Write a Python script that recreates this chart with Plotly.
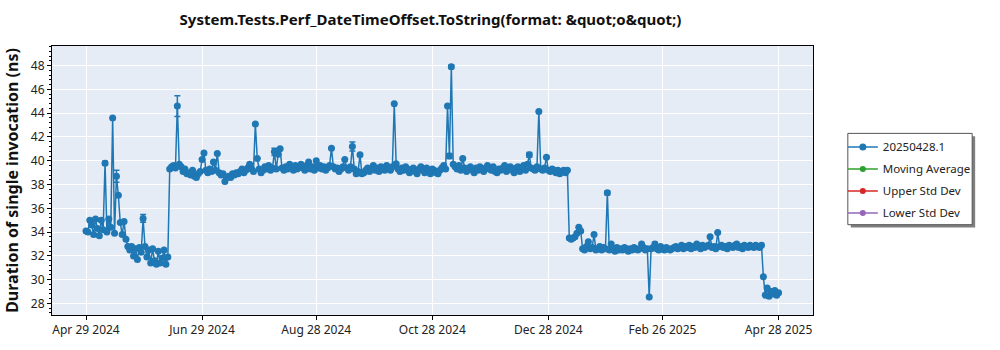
import pandas as pd
import plotly.graph_objects as go

TITLE = "System.Tests.Perf_DateTimeOffset.ToString(format: &amp;quot;o&amp;quot;)"
Y_TITLE = "Duration of single invocation (ns)"
SERIES_NAME = "20250428.1"
EXTRA_SERIES = ["Moving Average", "Upper Std Dev", "Lower Std Dev"]
EXTRA_COLORS = ["#2ca02c", "#d62728", "#9467bd"]

START_DATE = "2024-04-29"

# one measurement per day, in ns
VALUES = [
    # Apr 29 - May 20 2024
    34.1, 34.0, 35.0, 34.6, 33.8, 35.1, 34.3, 33.7, 35.0, 34.2,
    39.8, 34.0, 35.1, 34.4, 43.6, 33.9, 38.7, 37.1, 34.8, 33.8,
    34.9, 33.4,
    # May 21 - Jun 11 2024
    32.8, 32.5, 32.8, 32.0, 32.6, 31.7, 32.7, 32.3, 35.15, 32.8,
    31.9, 32.5, 31.4, 32.6, 31.6, 31.3, 32.4, 31.4, 31.8, 32.5,
    31.3, 31.9,
    # Jun 12 2024 - Jan 7 2025
    39.3, 39.5, 39.6, 39.4, 44.6, 39.7, 39.5, 39.1, 39.3, 38.9,
    39.0, 38.8, 39.2, 38.7, 38.6, 38.9, 39.1, 40.1, 40.65, 39.2,
    39.0, 39.3, 39.1, 39.9, 39.2, 40.6, 39.0, 38.8, 38.9, 38.25,
    38.6, 38.7, 38.6, 38.9, 38.8, 39.0, 38.9, 39.1, 39.3, 39.0,
    39.2, 39.4, 39.7, 39.3, 39.1, 43.1, 40.2, 39.3, 39.0, 39.2,
    39.5, 39.3, 39.6, 39.2, 39.4, 40.75, 39.3, 40.55, 41.0, 39.4,
    39.2, 39.5, 39.3, 39.7, 39.4, 39.2, 39.6, 39.3, 39.5, 39.7,
    39.4, 39.2, 39.6, 39.9, 39.3, 39.5, 39.2, 40.0, 39.4, 39.6,
    39.3, 39.5, 39.2, 39.4, 39.6, 41.05, 39.5, 39.3, 39.4, 39.1,
    39.3, 39.5, 40.1, 39.4, 39.2, 39.5, 41.2, 39.3, 38.9, 39.1,
    40.5, 38.9, 39.0, 39.2, 39.4, 39.1, 39.3, 39.6, 39.2, 39.4,
    39.1, 39.5, 39.3, 39.2, 39.6, 39.4, 39.2, 39.5, 44.8, 39.75,
    39.3, 39.1, 39.4, 39.2, 39.5, 39.3, 39.0, 39.2, 39.4, 39.1,
    38.9, 39.3, 39.5, 39.2, 39.0, 39.4, 39.1, 38.9, 39.3, 39.2,
    39.0, 38.9, 39.2, 39.4, 39.6, 39.3, 44.6, 40.4, 47.9, 39.7,
    39.5, 39.3, 39.6, 39.2, 40.2, 39.4, 39.1, 39.3, 39.5, 39.2,
    39.0, 39.4, 39.2, 39.5, 39.3, 39.1, 39.4, 39.6, 39.3, 39.2,
    39.5, 39.1, 39.0, 39.3, 39.2, 39.4, 39.6, 39.1, 39.3, 39.5,
    39.2, 39.0, 39.4, 39.5, 39.1, 39.3, 39.6, 39.2, 39.7, 40.5,
    39.4, 39.3, 39.2, 39.5, 44.15, 39.3, 39.2, 39.4, 40.3, 39.2,
    39.1, 39.3, 39.2, 39.0, 39.2, 38.9, 39.1, 39.2, 39.0, 39.2,
    # Jan 8 - Jan 14 2025
    33.5, 33.4, 33.5, 33.6, 33.9, 34.4, 34.1,
    # Jan 15 - Apr 19 2025
    32.6, 32.5, 32.8, 33.2, 32.6, 32.7, 33.8, 32.5, 32.6, 32.8,
    32.5, 32.7, 32.6, 37.3, 32.5, 33.0, 32.6, 32.4, 32.7, 32.5,
    32.6, 32.5, 32.7, 32.6, 32.4, 32.6, 32.5, 32.7, 32.6, 32.5,
    32.6, 33.0, 32.7, 32.5, 32.6, 28.55, 32.6, 32.7, 33.0, 32.6,
    32.5, 32.8, 32.6, 32.5, 32.7, 32.6, 32.5, 32.6, 32.7, 32.8,
    32.6, 32.7, 32.9, 32.6, 32.8, 32.7, 32.9, 32.6, 32.8, 32.7,
    33.0, 32.8, 32.6, 32.9, 32.7, 32.8, 32.9, 33.6, 32.7, 32.8,
    32.6, 33.97, 32.8, 32.9, 32.7, 32.8, 32.6, 32.9, 32.8, 32.7,
    32.9, 33.0, 32.7, 32.8, 32.6, 32.9, 32.8, 32.7, 32.9, 32.8,
    32.7, 32.9, 32.8, 32.7, 32.9,
    # Apr 20 - Apr 28 2025
    30.25, 28.7, 29.3, 28.6, 29.0, 28.8, 29.1, 28.7, 28.9,
]

# error bars (ns) that stand out from the markers
ERR_DATES = ["2024-05-09", "2024-05-15", "2024-05-29", "2024-06-16", "2024-08-06",
             "2024-09-16", "2024-11-06", "2024-11-07", "2024-12-18", "2025-01-28",
             "2025-01-30", "2025-02-22"]
ERR_SIZES = [0.15, 0.5, 0.33, 0.87, 0.3, 0.38, 0.2, 0.15, 0.2, 0.15, 0.1, 0.15]

TICK_DATES = ["2024-04-29", "2024-06-29", "2024-08-28", "2024-10-28",
              "2024-12-28", "2025-02-26", "2025-04-28"]
TICK_TEXT = ["Apr 29 2024", "Jun 29 2024", "Aug 28 2024", "Oct 28 2024",
             "Dec 28 2024", "Feb 26 2025", "Apr 28 2025"]
Y_TICKS = [28, 30, 32, 34, 36, 38, 40, 42, 44, 46, 48]

dates = pd.date_range(START_DATE, periods=len(VALUES), freq="D")
err_lookup = dict(zip(pd.to_datetime(ERR_DATES), ERR_SIZES))
errors = [err_lookup.get(d, 0.0) for d in dates]

FONT = "Noto Sans"
BLUE = "#1f77b4"

# plot area in pixels, used to place the legend frame in paper units
PL, PR, PT, PB = 48, 813, 46, 320


def px_x(x):
    return (x - PL) / (PR - PL)


def px_y(y):
    return (PB - y) / (PB - PT)


fig = go.Figure()
fig.add_trace(go.Scatter(
    x=dates, y=VALUES, name=SERIES_NAME, mode="lines+markers",
    legendgroup="g0",
    line=dict(color=BLUE, width=1.5),
    marker=dict(color=BLUE, size=7),
    error_y=dict(type="data", array=errors, visible=True,
                 color=BLUE, thickness=1.5, width=3),
))
for i, (name, color) in enumerate(zip(EXTRA_SERIES, EXTRA_COLORS), start=1):
    fig.add_trace(go.Scatter(
        x=[None], y=[None], name=name, mode="lines+markers",
        legendgroup=f"g{i}",
        line=dict(color=color, width=1.5), marker=dict(color=color, size=6),
    ))

# legend frame: drop shadow, then the white box with its border
fig.add_shape(type="rect", xref="paper", yref="paper",
              x0=px_x(851), x1=px_x(976), y0=px_y(231), y1=px_y(138),
              fillcolor="#7f7f7f", line=dict(width=0), layer="above")
fig.add_shape(type="rect", xref="paper", yref="paper",
              x0=px_x(848), x1=px_x(973), y0=px_y(228), y1=px_y(135),
              fillcolor="white", line=dict(color="#555", width=1), layer="above")

fig.update_layout(
    width=1000, height=350,
    margin=dict(l=PL, r=1000 - PR, t=PT, b=350 - PB),
    paper_bgcolor="white", plot_bgcolor="#E5ECF6",
    font=dict(family=FONT, size=12, color="#222"),
    title=dict(text=TITLE, x=(PL + PR) / 2 / 1000, xanchor="center",
               y=1 - 20 / 350, yanchor="middle",
               font=dict(family=FONT, size=15, color="#111", weight="bold")),
    showlegend=True,
    legend=dict(x=px_x(843), y=px_y(134),
                xanchor="left", yanchor="top",
                bgcolor="rgba(0,0,0,0)", borderwidth=0,
                font=dict(family=FONT, size=11.5, color="#222"),
                itemwidth=30, tracegroupgap=3),
    xaxis=dict(
        type="date",
        range=["2024-04-11 03:00", "2025-05-16 02:00"],
        tickvals=pd.to_datetime(TICK_DATES), ticktext=TICK_TEXT,
        showgrid=True, gridcolor="white", gridwidth=1,
        showline=True, linecolor="black", linewidth=1, mirror=True,
        ticks="outside", ticklen=4, tickcolor="black",
        zeroline=False,
    ),
    yaxis=dict(
        range=[27.03, 49.65],
        tickvals=Y_TICKS,
        showgrid=True, gridcolor="white", gridwidth=1,
        showline=True, linecolor="black", linewidth=1, mirror=True,
        ticks="outside", ticklen=4, tickcolor="black",
        minor=dict(ticks="outside", ticklen=2, dtick=0.4, tick0=0,
                   tickcolor="black", showgrid=False),
        zeroline=False,
        title=dict(text=Y_TITLE, standoff=8,
                   font=dict(family=FONT, size=16, color="#111", weight="bold")),
    ),
)

fig.write_html("out.html")
